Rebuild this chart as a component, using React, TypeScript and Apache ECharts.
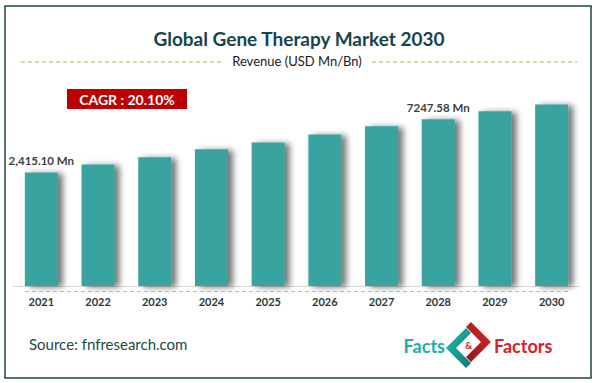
import React, { useEffect, useRef } from "react";
import * as echarts from "echarts";

const years = ["2021", "2022", "2023", "2024", "2025", "2026", "2027", "2028", "2029", "2030"];
const revenue = [2415.1, 2848, 3311, 3905, 4482, 5287, 6271, 7247.58, 8546, 9872];
const valueLabels = ["2,415.10 Mn", "", "", "", "", "", "", "7247.58 Mn", "", ""];
const titleText = "Global Gene Therapy Market 2030";
const subtitleText = "Revenue (USD Mn/Bn)";
const cagrText = "CAGR : 20.10%";
const sourceText = "Source: fnfresearch.com";

const FONT = "Lato, 'Open Sans', sans-serif";

export default function App() {
  const ref = useRef<HTMLDivElement>(null);
  useEffect(() => {
    document.body.style.margin = "0";
    const chart = echarts.init(ref.current!, null, { renderer: "svg" });
    const teal = new echarts.graphic.LinearGradient(0, 0, 1, 1, [
      { offset: 0, color: "#25bdb0" },
      { offset: 1, color: "#0b7c76" },
    ]);
    const red = new echarts.graphic.LinearGradient(1, 0, 0, 1, [
      { offset: 0, color: "#e2262c" },
      { offset: 1, color: "#8a1818" },
    ]);
    chart.setOption({
      animation: false,
      backgroundColor: "#ffffff",
      grid: { left: 13, right: 17, top: 81, bottom: 97, containLabel: false },
      xAxis: {
        type: "category",
        data: years,
        axisLine: { show: true, lineStyle: { color: "#d9d9d9", width: 1 } },
        axisTick: { show: false },
        axisLabel: {
          margin: 10,
          color: "#1f3b38",
          fontWeight: "bold",
          fontSize: 11,
          fontFamily: FONT,
        },
      },
      yAxis: {
        type: "log",
        min: 232,
        max: 16000,
        show: false,
        splitLine: { show: false },
      },
      series: [
        {
          type: "bar",
          data: revenue,
          barWidth: 33,
          clip: true,
          itemStyle: {
            color: "#37a39f",
            shadowColor: "rgba(0,0,0,0.55)",
            shadowBlur: 6,
            shadowOffsetX: 5,
            shadowOffsetY: 1,
          },
          label: {
            show: true,
            position: "top",
            distance: 6,
            color: "#404040",
            fontWeight: "bold",
            fontSize: 11.5,
            fontFamily: FONT,
            formatter: (p: any) => valueLabels[p.dataIndex],
          },
        },
      ],
      graphic: [
        {
          type: "rect",
          shape: { x: 5, y: 6, width: 586, height: 372 },
          style: { fill: "none", stroke: "#1c4a3c", lineWidth: 1.5 },
          silent: true,
        },
        {
          type: "text",
          x: 299,
          y: 38,
          style: {
            text: titleText,
            fill: "#15444a",
            font: `bold 19px ${FONT}`,
            textAlign: "center",
            textVerticalAlign: "middle",
          },
        },
        {
          type: "line",
          shape: { x1: 21, y1: 62, x2: 222, y2: 62 },
          style: { stroke: "#8fc65f", lineWidth: 1, lineDash: [4, 3] },
        },
        {
          type: "line",
          shape: { x1: 372, y1: 62, x2: 577, y2: 62 },
          style: { stroke: "#8fc65f", lineWidth: 1, lineDash: [4, 3] },
        },
        {
          type: "text",
          x: 297,
          y: 61,
          style: {
            text: subtitleText,
            fill: "#1a1a1a",
            font: `13px ${FONT}`,
            textAlign: "center",
            textVerticalAlign: "middle",
          },
        },
        {
          type: "rect",
          shape: { x: 67, y: 89, width: 120, height: 20 },
          style: { fill: "#c00000" },
        },
        {
          type: "text",
          x: 127,
          y: 99,
          style: {
            text: cagrText,
            fill: "#ffffff",
            font: `bold 14px ${FONT}`,
            textAlign: "center",
            textVerticalAlign: "middle",
          },
        },
        {
          type: "line",
          shape: { x1: 25, y1: 291.5, x2: 570, y2: 291.5 },
          style: { stroke: "#a8d08d", lineWidth: 1, lineDash: [4, 3] },
        },
        {
          type: "text",
          x: 29,
          y: 344,
          style: {
            text: sourceText,
            fill: "#1d4a45",
            font: `15px ${FONT}`,
            textAlign: "left",
            textVerticalAlign: "middle",
          },
        },
        {
          type: "text",
          x: 445,
          y: 346,
          style: {
            text: "Facts",
            fill: "#22aea4",
            font: `bold 18px ${FONT}`,
            textAlign: "right",
            textVerticalAlign: "middle",
          },
        },
        {
          type: "polygon",
          x: 466,
          y: 348,
          shape: { points: [[0, -20], [-20, 0], [0, 20], [5, 15], [-10, 0], [5, -15]] },
          style: { fill: teal },
        },
        {
          type: "polygon",
          x: 471,
          y: 342,
          shape: { points: [[0, -20], [20, 0], [0, 20], [-5, 15], [10, 0], [-5, -15]] },
          style: { fill: red },
        },
        {
          type: "text",
          x: 468.5,
          y: 345,
          style: {
            text: "&",
            fill: "#c0282d",
            font: `bold 10px ${FONT}`,
            textAlign: "center",
            textVerticalAlign: "middle",
          },
        },
        {
          type: "text",
          x: 494,
          y: 346,
          style: {
            text: "Factors",
            fill: "#d6232a",
            font: `bold 18px ${FONT}`,
            textAlign: "left",
            textVerticalAlign: "middle",
          },
        },
      ],
    });
    return () => chart.dispose();
  }, []);
  return <div ref={ref} style={{ width: 597, height: 383 }} />;
}
